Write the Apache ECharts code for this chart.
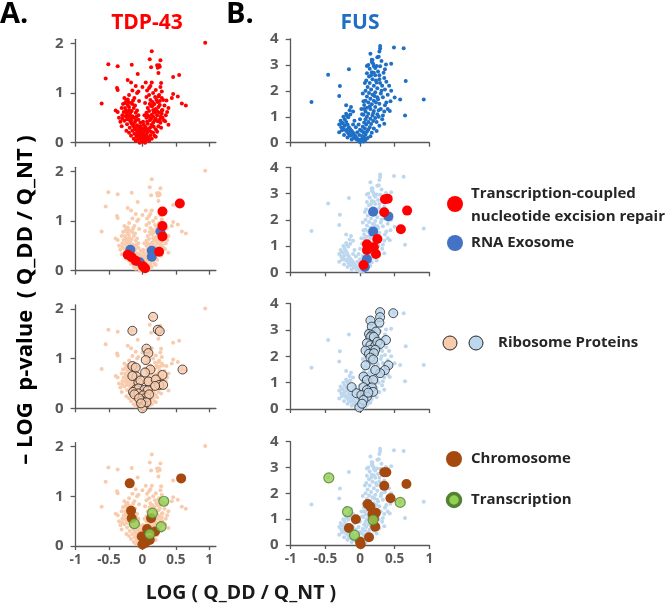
<!DOCTYPE html>
<html>
<head>
<meta charset="utf-8">
<script src="https://cdn.jsdelivr.net/npm/echarts@6/dist/echarts.min.js"></script>
<style>
  html, body { margin: 0; padding: 0; background: #fff; }
  #chart { width: 666px; height: 605px; }
</style>
</head>
<body>
<div id="chart"></div>
<script>
// all proteins, TDP-43 knock-down  [log ratio, -log p]
const tdpAll = [
  [0.94,2.01],[0.14,1.84],[0.11,1.68],[0.27,1.66],[0.22,1.56],[0.25,1.56],[0.26,1.53],[0.23,1.51],
  [-0.51,1.58],[-0.37,1.54],[-0.16,1.57],[0.13,1.52],[0.24,1.40],[-0.07,1.38],[-0.55,1.29],[-0.22,1.26],
  [-0.17,1.21],[0.14,1.21],[0.05,1.21],[0.28,1.20],[0.55,1.36],[0.46,1.32],[-0.38,1.10],[-0.37,1.06],
  [0.10,1.10],[0.07,1.05],[-0.06,1.03],[0.29,1.03],[0.24,0.93],[0.46,0.98],[0.53,0.93],[0.44,0.90],
  [0.29,0.90],[-0.61,0.79],[0.59,0.79],[0.65,0.75],[0.39,0.70],[-0.40,0.65],[-0.31,0.70],[-0.22,0.87],
  [-0.14,0.85],[-0.08,1.00],[-0.26,0.80],[0.29,0.65],[0.34,0.43],[-0.30,0.48],[-0.25,0.53],[0.26,0.46],
  [0,0.02],[0.01,0.05],[-0.01,0.04],[0.02,0.08],[-0.02,0.07],[0.03,0.03],[-0.03,0.1],[0.04,0.12],
  [-0.04,0.13],[0.05,0.1],[-0.05,0.16],[0.06,0.15],[0,0.12],[0.01,0.18],[-0.06,0.2],[0.07,0.2],
  [-0.08,0.22],[0.09,0.24],[-0.02,0.22],[0.03,0.25],[-0.1,0.26],[0.1,0.28],[-0.12,0.3],[0.12,0.31],
  [-0.05,0.28],[0.05,0.3],[-0.14,0.34],[0.14,0.36],[-0.08,0.35],[0.08,0.38],[-0.16,0.38],[0.16,0.4],
  [-0.18,0.42],[0.18,0.44],[-0.11,0.42],[0.11,0.45],[-0.2,0.47],[0.2,0.48],[-0.06,0.46],[0.06,0.5],
  [-0.22,0.52],[0.22,0.55],[-0.15,0.53],[0.14,0.56],[-0.24,0.58],[0.25,0.6],[-0.18,0.6],[0.17,0.62],
  [-0.1,0.6],[0.1,0.64],[-0.2,0.66],[0.2,0.68],[-0.26,0.7],[0.24,0.72],[-0.13,0.7],[0.13,0.74],
  [-0.22,0.76],[0.18,0.78],[-0.17,0.8],[0.23,0.82],[-0.24,0.85],[0.12,0.86],[-0.12,0.9],[0.19,0.92],
  [-0.28,0.62],[0.29,0.58],[-0.3,0.55],[0.3,0.5],[-0.27,0.44],[0.27,0.4],[-0.23,0.37],[0.24,0.33],
  [-0.19,0.3],[0.2,0.27],[-0.15,0.24],[0.16,0.2],[-0.12,0.18],[0.12,0.15],[-0.09,0.12],[0.09,0.1],
  [-0.07,0.06],[0.07,0.06],[-0.16,0.5],[0.16,0.52],[-0.09,0.52],[0.03,0.55],[-0.03,0.4],[0.02,0.36],
  [-0.2,0.72],[0.26,0.76],[0.3,0.66],[-0.29,0.78],[0.08,0.7],[0.15,0.82],[0.21,0.86],[0.1,0.96],
  [0.16,1.0],[0.2,1.06],[-0.2,0.96],[-0.15,1.05],[0,1.12],[0.06,0.92],[-0.05,0.84],[0.04,0.8],
  [0.32,0.45],[0.35,0.55],[-0.33,0.42],[-0.35,0.5],[0.33,0.75],[-0.31,0.33],[0.28,0.3],[0.22,0.22],
  [-0.24,0.24],[0.18,0.14],[-0.17,0.14],[0.14,0.08],[-0.13,0.08],[0.1,0.04],[-0.1,0.04],[0.04,0],
  [-0.04,0],[0.25,0.96],[0.12,1.14],[-0.1,1.14],[0.27,1.12],[0.31,0.86],[0.37,0.62],[-0.37,0.62],
  [-0.27,0.9],[0.36,0.85],[0.39,0.36],[-0.2,0.2],[0.2,0.12],
  [-0.02,0.15],[0.02,0.2],[-0.04,0.25],[0.04,0.32],[-0.07,0.32],[0.07,0.42],[-0.1,0.45],[0.1,0.52],
  [-0.13,0.5],[0.13,0.48],[-0.06,0.55],[0.06,0.6],[-0.16,0.64],[0.16,0.66],[-0.08,0.65],[0.08,0.55],
  [-0.19,0.55],[0.19,0.6],[-0.22,0.62],[0.22,0.64],[-0.11,0.75],[0.11,0.78],[-0.15,0.78],[0.15,0.74],
  [-0.21,0.82],[0.26,0.84],[-0.25,0.65],[0.27,0.52],[-0.23,0.47],[0.23,0.43],[-0.17,0.44],[0.17,0.32],
  [-0.13,0.38],[0.13,0.22],[-0.08,0.16],[0.06,0.26],[-0.03,0.33],[0,0.28],[0.01,0.42],[-0.01,0.06],
  [0.02,0.14],[-0.03,0.19]
];

// all proteins, FUS knock-down
const fusAll = [
  [0.29,3.73],[0.29,3.63],[0.28,3.52],[0.49,3.67],[0.63,3.64],[0.15,3.43],[0.27,3.32],[0.18,3.19],
  [0.17,3.11],[0.31,3.15],[0.45,3.05],[0.375,3.02],[0.10,2.96],[0.24,2.96],[-0.16,2.83],[-0.46,2.62],
  [0.36,2.83],[0.34,2.7],[0.66,2.38],[-0.29,2.19],[-0.30,1.80],[-0.70,1.57],[0.92,1.67],[0.58,1.67],
  [0.50,1.74],[0.65,1.05],[0.43,1.22],[0.36,1.44],[-0.20,1.44],[-0.13,1.38],[-0.14,1.09],[-0.19,1.05],
  [-0.26,0.77],[-0.25,0.57],[0.35,0.73],[-0.15,0.28],
  [0,0.03],[0.02,0.06],[-0.02,0.08],[0.01,0.12],[-0.04,0.15],[0.04,0.14],[-0.06,0.22],[0.06,0.2],
  [0.03,0.26],[-0.01,0.3],[-0.08,0.3],[0.08,0.32],[0.05,0.4],[-0.1,0.38],[0.1,0.42],[0.02,0.46],
  [-0.12,0.46],[0.12,0.5],[0.07,0.55],[-0.14,0.52],[0.04,0.62],[0.14,0.6],[-0.16,0.6],[0.09,0.7],
  [0.16,0.72],[-0.18,0.7],[0.06,0.78],[0.12,0.8],[0.19,0.84],[-0.2,0.8],[-0.22,0.9],[0.08,0.9],
  [0.15,0.92],[0.22,0.95],[0.1,1.0],[-0.17,0.98],[0.18,1.05],[0.05,1.08],[0.12,1.12],[0.25,1.1],
  [0.08,1.2],[0.2,1.22],[0.15,1.3],[-0.1,1.2],[0.1,1.35],[0.22,1.38],[0.06,1.45],[0.17,1.48],
  [0.28,1.5],[0.12,1.55],[0.08,1.62],[0.2,1.62],[0.15,1.7],[0.25,1.75],[0.1,1.78],[0.18,1.85],
  [0.13,1.92],[0.22,1.95],[0.3,1.9],[0.08,2.0],[0.16,2.05],[0.25,2.1],[0.11,2.15],[0.2,2.2],
  [0.32,2.2],[0.14,2.3],[0.24,2.32],[0.09,2.4],[0.18,2.45],[0.28,2.45],[0.13,2.55],[0.22,2.6],
  [0.35,2.5],[0.1,2.68],[0.17,2.72],[0.26,2.75],[0.14,2.85],[0.22,2.88],[0.12,3.0],[0.19,3.05],
  [0.28,2.6],[0.38,2.35],[0.42,2.2],[0.45,2.0],[0.36,2.05],[0.4,1.85],[0.33,1.75],[0.44,1.6],
  [0.38,1.55],[0.3,1.3],[0.35,1.2],[0.27,1.0],[0.32,0.9],[0.24,0.8],[0.28,0.65],[0.2,0.55],
  [0.24,0.45],[0.17,0.38],[0.15,0.25],[0.11,0.18],[0.08,0.1],[0.05,0.05],
  [-0.05,0.12],[-0.09,0.18],[-0.13,0.28],[-0.17,0.36],[-0.2,0.45],[-0.24,0.52],[-0.27,0.6],[-0.22,0.65],
  [-0.3,0.7],[-0.25,0.75],[-0.19,0.5],[-0.15,0.42],[-0.11,0.33],[-0.07,0.26],[-0.28,0.85],[-0.24,1.0],
  [-0.2,1.12],[-0.15,1.25],[-0.26,0.48],[-0.3,0.4],[-0.12,0.12],[-0.18,0.2],[-0.23,0.3],[-0.1,0.7],
  [-0.06,0.6],[-0.08,0.85],[-0.02,0.7],[0,0.5],[-0.04,0.4],[0,0.9],[0.03,1.1],[0.02,1.3],
  [0.17,3.2],[0.25,3.3],[0.2,2.95],[0.29,2.95],[0.07,2.3],[0.04,1.9],[0.05,1.6],[0.23,1.55],
  [0.27,1.25],[0.33,1.05],[0.4,1.3],[0.29,2.3],[0.31,2.0],[0.21,1.8],[0.26,1.68],[0.14,1.4],
  [0.19,1.15],[0.06,1.3],[0.23,2.4],[0.16,2.6],[0.2,2.7]
];

// highlighted groups
const tdpTcner = [[0.56,1.35],[0.30,1.19],[0.30,0.90],[0.30,0.69],[0.25,0.38],[-0.22,0.32],[-0.16,0.27],[-0.10,0.20],[0.01,0.09],[0.04,0.05]];
const tdpExosome = [[0.27,0.79],[-0.18,0.42],[0.14,0.40],[0.14,0.28],[-0.04,0.17]];
const fusTcner = [[0.36,2.78],[0.40,2.80],[0.35,2.29],[0.68,2.35],[0.59,1.64],[0.25,1.27],[0.10,1.07],[0.20,0.95],[0.10,0.85],[0.23,0.70],[0.05,0.28]];
const fusExosome = [[0.19,2.31],[0.41,2.13],[0.19,1.55],[0.10,0.50],[0.07,0.20]];
const tdpRibo = [
  [0.16,1.84],[-0.15,1.56],[0.23,1.58],[0.26,1.55],[0.06,1.20],[0.09,1.11],[0.05,0.97],[0.12,0.78],
  [0.60,0.78],[-0.15,0.85],[-0.10,0.82],[-0.09,0.64],[-0.15,0.65],[0.04,0.72],[0.30,0.67],[-0.06,0.52],
  [-0.03,0.56],[0.09,0.54],[0.20,0.58],[0.25,0.47],[0.31,0.47],[0.19,0.45],[-0.10,0.38],[-0.06,0.40],
  [0.03,0.37],[0.08,0.36],[-0.14,0.33],[-0.06,0.30],[0.01,0.26],[0.06,0.22],[-0.01,0.15],[0.02,0.05],
  [0,0],[-0.12,0.28],[0.10,0.28],[-0.05,0.20],[0.06,0.12],[-0.02,0.10]
];
const fusRibo = [
  [0.29,3.68],[0.29,3.49],[0.48,3.64],[0.15,3.36],[0.28,3.28],[0.17,3.13],[0.23,2.94],[0.13,2.85],
  [0.17,2.80],[0.15,2.73],[0.20,2.74],[0.375,2.62],[0.10,2.50],[0.15,2.42],[0.22,2.40],[0.25,2.55],
  [0.29,2.47],[0.15,2.24],[0.22,2.25],[0.08,2.22],[0.13,2.10],[0.20,2.12],[0.15,1.95],[0.19,1.88],
  [0.41,1.66],[0.36,1.48],[0.29,1.36],[0.22,1.48],[0.08,1.66],[0.05,1.23],[0.10,1.10],[0.19,1.10],
  [-0.12,0.83],[0.05,0.83],[0.17,0.82],[0.10,0.72],[0.19,0.65],[-0.05,0.60],[0.02,0.53],[0.10,0.47],
  [-0.01,0.06],[0.05,0.34],[0.12,0.62],[0.03,0.20]
];
const tdpChrom = [[0.58,1.36],[-0.19,1.26],[-0.17,0.71],[-0.16,0.56],[0.13,0.56],[0.07,0.34],[0.19,0.29],[-0.01,0.19],[0.11,0.12],[0.04,0.06],[0,0.03]];
const tdpTranscr = [[0.32,0.90],[0.15,0.66],[-0.12,0.45],[0.28,0.39],[0.11,0.24]];
const fusChrom = [[0.35,2.82],[0.38,2.82],[0.35,2.29],[0.67,2.36],[0.44,1.81],[0.11,1.59],[0.15,1.48],[0.23,1.25],[0.18,1.20],[0.20,1.03],[-0.06,1.00],[-0.16,0.66],[0.22,0.71],[0.13,0.30],[0,0.13],[0.01,0.03]];
const fusTranscr = [[-0.45,2.60],[0.58,1.65],[-0.18,1.29],[0.19,0.97],[-0.08,0.38]];

const xTicks = [-1, -0.5, 0, 0.5, 1];
const tdpYTicks = [0, 1, 2];
const fusYTicks = [0, 1, 2, 3, 4];

const axisGrey = '#595959';
const font = '"Open Sans", sans-serif';

// grid boxes: [left, top, width, height]
const gridBoxes = [
  [75.6, 39.3, 140.3, 103.4], [290.7, 39, 138.6, 103.7],
  [75.6, 167.3, 140.3, 103.4], [290.7, 167.3, 138.6, 105],
  [75.6, 304.9, 140.3, 103.4], [290.7, 303.7, 138.6, 105.3],
  [75.6, 442.6, 140.3, 103.4], [290.7, 441.7, 138.6, 103.3]
];

const chart = echarts.init(document.getElementById('chart'), null, { renderer: 'canvas' });

const grids = gridBoxes.map(b => ({ left: b[0], top: b[1], width: b[2], height: b[3] }));

const xAxes = gridBoxes.map((b, i) => {
  const fus = i % 2 === 1;
  return {
    type: 'value', gridIndex: i,
    min: -1, max: fus ? 1 : 1.1,
    splitLine: { show: false },
    axisLine: { onZero: false, lineStyle: { color: axisGrey, width: 1.3 } },
    axisTick: { length: 4, lineStyle: { color: axisGrey, width: 1.3 }, customValues: xTicks },
    axisLabel: {
      show: i >= 6, customValues: xTicks, margin: 7,
      color: axisGrey, fontWeight: 'bold', fontSize: 13.5, fontFamily: font
    }
  };
});

const yAxes = gridBoxes.map((b, i) => {
  const fus = i % 2 === 1;
  const ticks = fus ? fusYTicks : tdpYTicks;
  return {
    type: 'value', gridIndex: i,
    min: 0, max: fus ? 4 : 2.08,
    splitLine: { show: false },
    axisLine: { onZero: false, lineStyle: { color: axisGrey, width: 1.3 } },
    axisTick: { length: 5, lineStyle: { color: axisGrey, width: 1.3 }, customValues: ticks },
    axisLabel: {
      customValues: ticks, margin: 12,
      color: axisGrey, fontWeight: 'bold', fontSize: 15, fontFamily: font
    }
  };
});

function dots(data, i, color, size, extra) {
  return Object.assign({
    type: 'scatter', xAxisIndex: i, yAxisIndex: i, data: data,
    symbolSize: size, itemStyle: { color: color, opacity: 1 },
    silent: true, animation: false
  }, extra || {});
}

const peach = '#F8CBAD';
const pale = '#BDD7EE';
const red = '#FF0000';
const fusBlue = '#1F6FC5';
const exoBlue = '#4472C4';
const brown = '#A5490F';
const green = '#92D050';

const series = [
  dots(tdpAll, 0, red, 4),
  dots(fusAll, 1, fusBlue, 4),
  dots(tdpAll, 2, peach, 4),
  dots(fusAll, 3, pale, 4),
  dots(tdpAll, 4, peach, 4),
  dots(fusAll, 5, pale, 4),
  dots(tdpAll, 6, peach, 4),
  dots(fusAll, 7, pale, 4),
  dots(tdpExosome, 2, exoBlue, 10, { z: 3 }),
  dots(tdpTcner, 2, red, 10, { z: 4 }),
  dots(fusExosome, 3, exoBlue, 10, { z: 3 }),
  dots(fusTcner, 3, red, 10, { z: 4 }),
  dots(tdpRibo, 4, peach, 9, { z: 3, itemStyle: { color: peach, borderColor: '#262626', borderWidth: 1 } }),
  dots(fusRibo, 5, pale, 9, { z: 3, itemStyle: { color: pale, borderColor: '#262626', borderWidth: 1 } }),
  dots(tdpChrom, 6, brown, 10, { z: 3 }),
  dots(tdpTranscr, 6, green, 10, { z: 4, itemStyle: { color: green, borderColor: '#548235', borderWidth: 1.2 } }),
  dots(fusChrom, 7, brown, 10, { z: 3 }),
  dots(fusTranscr, 7, green, 10, { z: 4, itemStyle: { color: green, borderColor: '#548235', borderWidth: 1.2 } })
];

const legendText = { fill: '#262626', font: 'bold 15px ' + font, textVerticalAlign: 'middle' };

const graphic = [
  { type: 'text', left: 0, top: 0, style: { text: 'A.', fill: '#000', font: 'bold 29px ' + font } },
  { type: 'text', left: 226, top: 0, style: { text: 'B.', fill: '#000', font: 'bold 29px ' + font } },
  { type: 'text', x: 147, y: 23, style: { text: 'TDP-43', fill: red, font: 'bold 21px ' + font, textAlign: 'center', textVerticalAlign: 'middle' } },
  { type: 'text', x: 360, y: 23, style: { text: 'FUS', fill: fusBlue, font: 'bold 21px ' + font, textAlign: 'center', textVerticalAlign: 'middle' } },
  { type: 'text', x: 26, y: 300, rotation: Math.PI / 2,
    style: { text: '– LOG  p-value  ( Q_DD / Q_NT )', fill: '#000', font: 'bold 22px ' + font, textAlign: 'center', textVerticalAlign: 'middle' } },
  { type: 'text', x: 241, y: 593,
    style: { text: 'LOG ( Q_DD / Q_NT )', fill: '#1a1a1a', font: 'bold 19.5px ' + font, textAlign: 'center', textVerticalAlign: 'middle' } },

  { type: 'circle', shape: { cx: 455, cy: 204, r: 8 }, style: { fill: red } },
  { type: 'text', x: 471, y: 205, style: Object.assign({ text: 'Transcription-coupled\nnucleotide excision repair', lineHeight: 23 }, legendText) },
  { type: 'circle', shape: { cx: 455, cy: 243, r: 8 }, style: { fill: exoBlue } },
  { type: 'text', x: 471, y: 243, style: Object.assign({ text: 'RNA Exosome' }, legendText) },
  { type: 'circle', shape: { cx: 450, cy: 343, r: 7 }, style: { fill: peach, stroke: '#262626', lineWidth: 1 } },
  { type: 'circle', shape: { cx: 476, cy: 343, r: 7 }, style: { fill: pale, stroke: '#262626', lineWidth: 1 } },
  { type: 'text', x: 498, y: 343, style: Object.assign({ text: 'Ribosome Proteins' }, legendText) },
  { type: 'circle', shape: { cx: 454, cy: 459, r: 8 }, style: { fill: brown } },
  { type: 'text', x: 471, y: 459, style: Object.assign({ text: 'Chromosome' }, legendText) },
  { type: 'circle', shape: { cx: 454, cy: 500, r: 6.5 }, style: { fill: green, stroke: '#548235', lineWidth: 3.5 } },
  { type: 'text', x: 471, y: 500, style: Object.assign({ text: 'Transcription' }, legendText) }
];

chart.setOption({
  animation: false,
  grid: grids,
  xAxis: xAxes,
  yAxis: yAxes,
  series: series,
  graphic: graphic
});
</script>
</body>
</html>
